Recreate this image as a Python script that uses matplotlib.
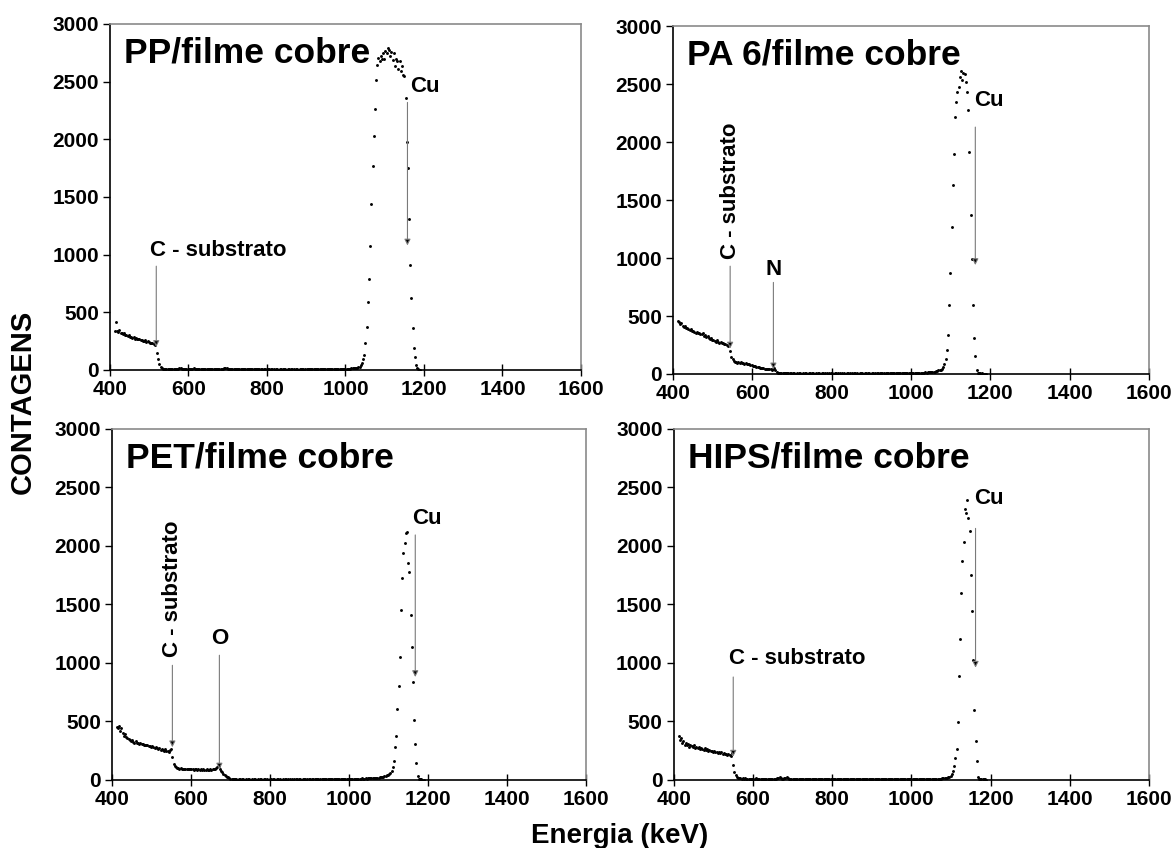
import numpy as np
import matplotlib.pyplot as plt

plt.rcParams['font.family'] = ['Liberation Sans', 'DejaVu Sans']
plt.rcParams['font.weight'] = 'bold'

# calibracao dos canais (keV)
e_start = 412
e_step = 3

# contagens por canal, 20 canais (60 keV) por linha
pp_counts = [
    335, 412, 340, 330, 345, 320, 325, 310, 318, 300, 305, 295, 300, 285, 290, 280, 284, 272, 276, 268,
    265, 270, 258, 262, 255, 250, 258, 245, 248, 240, 236, 232, 238, 226, 215, 240, 150, 92, 48, 24,
    14, 10, 9, 11, 8, 9, 10, 8, 7, 9, 12, 8, 9, 7, 10, 13, 16, 11, 9, 8,
    8, 7, 9, 8, 10, 9, 12, 15, 11, 8, 9, 7, 8, 9, 6, 8, 7, 9, 8, 6,
    7, 8, 6, 9, 7, 8, 6, 7, 9, 8, 7, 10, 12, 15, 18, 14, 9, 8, 7, 6,
    7, 6, 8, 7, 5, 6, 7, 6, 8, 5, 6, 7, 5, 6, 7, 6, 5, 7, 6, 5,
    6, 5, 7, 6, 5, 6, 4, 6, 5, 7, 5, 6, 4, 5, 6, 5, 4, 6, 5, 4,
    5, 6, 4, 5, 6, 5, 4, 6, 5, 4, 5, 6, 5, 4, 5, 6, 4, 5, 6, 5,
    5, 4, 6, 5, 6, 5, 7, 5, 6, 5, 6, 7, 5, 6, 7, 6, 5, 7, 6, 7,
    6, 7, 8, 6, 7, 8, 7, 9, 8, 7, 9, 8, 10, 9, 8, 10, 11, 9, 12, 11,
    12, 13, 14, 15, 16, 18, 20, 24, 30, 40, 58, 95, 130, 237, 370, 587, 787, 1079, 1435, 1771,
    2031, 2260, 2512, 2648, 2705, 2680, 2720, 2697, 2750, 2700, 2770, 2749, 2789, 2775, 2720, 2760, 2690, 2749, 2640, 2700,
    2680, 2610, 2677, 2590, 2633, 2560, 2546, 2358, 1976, 1750, 1311, 911, 622, 362, 188, 116, 40, 14, 6, 4,
]

pa6_counts = [
    455, 448, 430, 440, 415, 405, 410, 395, 400, 385, 378, 390, 370, 372, 365, 355, 362, 350, 357, 345,
    343, 350, 330, 338, 320, 325, 310, 300, 312, 295, 290, 286, 280, 292, 275, 270, 278, 265, 271, 262,
    257, 250, 245, 260, 200, 150, 125, 114, 105, 100, 98, 102, 95, 100, 92, 97, 90, 94, 88, 85,
    82, 78, 75, 70, 72, 65, 60, 62, 58, 55, 50, 52, 48, 45, 47, 42, 44, 40, 42, 38,
    45, 55, 30, 18, 12, 9, 7, 6, 6, 5, 6, 5, 7, 5, 6, 5, 4, 6, 5, 4,
    5, 4, 5, 6, 4, 5, 4, 5, 6, 4, 5, 5, 4, 6, 5, 4, 5, 4, 5, 6,
    4, 5, 5, 4, 6, 5, 4, 5, 4, 6, 5, 4, 5, 5, 4, 6, 5, 4, 5, 4,
    5, 4, 6, 5, 4, 5, 5, 4, 6, 5, 4, 5, 4, 6, 5, 5, 4, 5, 6, 4,
    5, 5, 4, 6, 5, 4, 5, 6, 5, 4, 6, 5, 5, 6, 4, 5, 6, 5, 6, 5,
    6, 5, 6, 7, 5, 6, 7, 6, 7, 6, 8, 7, 6, 8, 7, 8, 7, 9, 8, 9,
    9, 10, 9, 11, 10, 12, 11, 12, 13, 12, 14, 13, 15, 16, 17, 18, 20, 22, 25, 30,
    30, 36, 45, 60, 85, 129, 207, 336, 595, 868, 1270, 1629, 1894, 2218, 2348, 2434, 2480, 2560, 2610, 2540,
    2600, 2590, 2520, 2434, 2276, 1917, 1371, 989, 595, 307, 155, 30, 10, 6, 5, 4, 5, 4, 4, 3,
]

pet_counts = [
    455, 440, 460, 420, 445, 400, 380, 395, 370, 360, 350, 340, 335, 345, 325, 320, 330, 315, 318, 310,
    312, 305, 308, 300, 302, 295, 298, 290, 292, 285, 288, 280, 275, 282, 270, 265, 272, 260, 268, 255,
    251, 262, 245, 250, 240, 255, 265, 194, 137, 118, 109, 104, 100, 96, 100, 98, 94, 97, 95, 92,
    96, 93, 90, 95, 92, 88, 94, 90, 87, 92, 89, 91, 86, 90, 88, 85, 92, 89, 87, 90,
    88, 92, 90, 95, 100, 110, 123, 95, 75, 66, 50, 40, 37, 28, 22, 17, 12, 9, 7, 6,
    5, 6, 4, 5, 5, 4, 6, 5, 4, 5, 4, 5, 6, 4, 5, 4, 5, 5, 4, 5,
    4, 5, 5, 4, 5, 6, 4, 5, 4, 5, 5, 4, 6, 5, 4, 5, 5, 4, 5, 4,
    5, 4, 5, 5, 4, 6, 5, 4, 5, 4, 5, 6, 5, 4, 5, 5, 4, 6, 5, 5,
    4, 5, 6, 5, 4, 5, 6, 5, 5, 6, 5, 4, 6, 5, 6, 5, 6, 7, 5, 6,
    6, 7, 6, 8, 7, 6, 8, 7, 9, 8, 7, 9, 8, 9, 10, 8, 9, 10, 9, 10,
    10, 11, 10, 12, 11, 10, 12, 13, 11, 12, 13, 12, 14, 13, 15, 14, 16, 15, 17, 18,
    19, 20, 22, 24, 26, 28, 30, 34, 40, 45, 50, 62, 80, 110, 166, 280, 380, 609, 800, 1051,
    1451, 1723, 1937, 2023, 2109, 2123, 1857, 1780, 1409, 1137, 837, 514, 309, 143, 37, 10, 6, 5, 4, 4,
]

hips_counts = [
    380, 343, 360, 320, 335, 300, 315, 295, 310, 285, 300, 290, 280, 295, 275, 285, 270, 278, 265, 272,
    268, 260, 270, 255, 262, 250, 258, 245, 252, 240, 248, 238, 242, 232, 238, 228, 235, 225, 230, 222,
    220, 215, 225, 210, 205, 230, 130, 66, 40, 29, 20, 15, 14, 12, 15, 11, 13, 10, 12, 9,
    11, 10, 12, 9, 11, 13, 10, 9, 12, 10, 8, 11, 9, 10, 12, 9, 8, 10, 9, 11,
    10, 9, 12, 14, 18, 22, 16, 12, 10, 14, 20, 23, 15, 11, 9, 10, 8, 9, 10, 8,
    9, 8, 10, 7, 9, 8, 7, 9, 8, 10, 7, 8, 9, 7, 8, 6, 8, 7, 9, 7,
    8, 7, 6, 8, 7, 9, 6, 7, 8, 6, 7, 8, 7, 6, 8, 7, 6, 7, 8, 6,
    7, 6, 8, 7, 6, 7, 8, 6, 7, 7, 6, 8, 7, 6, 7, 8, 7, 6, 7, 8,
    7, 8, 6, 7, 8, 7, 9, 7, 8, 9, 7, 8, 9, 10, 8, 9, 8, 10, 9, 8,
    9, 10, 8, 9, 10, 9, 11, 10, 9, 11, 10, 12, 10, 11, 9, 10, 11, 9, 10, 8,
    9, 8, 10, 9, 8, 9, 10, 8, 9, 10, 9, 8, 10, 9, 11, 10, 9, 11, 10, 12,
    11, 12, 13, 14, 16, 18, 20, 24, 28, 35, 50, 80, 123, 190, 266, 494, 886, 1209, 1594, 1871,
    2037, 2314, 2280, 2394, 2237, 2129, 1751, 1443, 1023, 594, 337, 166, 23, 10, 8, 7, 6, 5, 5, 4,
]

titles = ["PP/filme cobre", "PA 6/filme cobre", "PET/filme cobre", "HIPS/filme cobre"]
x_ticks = [400, 600, 800, 1000, 1200, 1400, 1600]
y_ticks = [0, 500, 1000, 1500, 2000, 2500, 3000]

fig = plt.figure(figsize=(11.76, 8.48), dpi=100)
rects = [
    [0.0935, 0.5637, 0.4005, 0.408],
    [0.5723, 0.559, 0.4048, 0.410],
    [0.0952, 0.0802, 0.403, 0.414],
    [0.573, 0.0802, 0.404, 0.414],
]
axs = [fig.add_axes(r) for r in rects]

for ax, counts, title in zip(axs, [pp_counts, pa6_counts, pet_counts, hips_counts], titles):
    energia = e_start + e_step * np.arange(len(counts))
    ax.plot(energia, counts, 'o', color='black', ms=2.1, mew=0)
    ax.set_xlim(400, 1600)
    ax.set_ylim(0, 3000)
    ax.set_xticks(x_ticks)
    ax.set_yticks(y_ticks)
    ax.tick_params(axis='x', direction='inout', length=8, width=1, labelsize=15, pad=3)
    ax.tick_params(axis='y', direction='out', length=5, width=1, labelsize=15, pad=3)
    for s in ['left', 'bottom']:
        ax.spines[s].set_color('black')
        ax.spines[s].set_linewidth(1.2)
    for s in ['top', 'right']:
        ax.spines[s].set_color('#8a8a8a')
        ax.spines[s].set_linewidth(1.2)
    ax.text(435, 2750, title, fontsize=25.5, ha='left', va='center')


def seta(ax, x, y0, y1):
    ax.annotate('', xy=(x, y1), xytext=(x, y0),
                arrowprops=dict(arrowstyle='-|>', lw=0.8, ec='#7a7a7a', fc='black',
                                mutation_scale=9, shrinkA=0, shrinkB=0))


lab = 16
# PP
axs[0].text(503, 1040, 'C - substrato', fontsize=lab, va='center')
seta(axs[0], 518, 900, 200)
axs[0].text(1166, 2460, 'Cu', fontsize=lab, va='center')
seta(axs[0], 1158, 2320, 1080)
# PA 6
axs[1].text(544, 990, 'C - substrato', fontsize=lab, rotation=90, ha='center', va='bottom')
seta(axs[1], 544, 930, 220)
axs[1].text(653, 900, 'N', fontsize=lab, ha='center', va='center')
seta(axs[1], 653, 790, 40)
axs[1].text(1160, 2357, 'Cu', fontsize=lab, va='center')
seta(axs[1], 1162, 2130, 940)
# PET
axs[2].text(553, 1050, 'C - substrato', fontsize=lab, rotation=90, ha='center', va='bottom')
seta(axs[2], 553, 980, 280)
axs[2].text(673, 1209, 'O', fontsize=lab, ha='center', va='center')
seta(axs[2], 672, 1066, 90)
axs[2].text(1159, 2237, 'Cu', fontsize=lab, va='center')
seta(axs[2], 1168, 2094, 880)
# HIPS
axs[3].text(539, 1037, 'C - substrato', fontsize=lab, va='center')
seta(axs[3], 550, 880, 200)
axs[3].text(1158, 2409, 'Cu', fontsize=lab, va='center')
seta(axs[3], 1162, 2150, 960)

fig.text(0.0196, 0.526, 'CONTAGENS', rotation=90, fontsize=21, ha='center', va='center')
fig.text(0.527, 0.014, 'Energia (keV)', fontsize=20, ha='center', va='center')

fig.savefig('out.png', dpi=100)
